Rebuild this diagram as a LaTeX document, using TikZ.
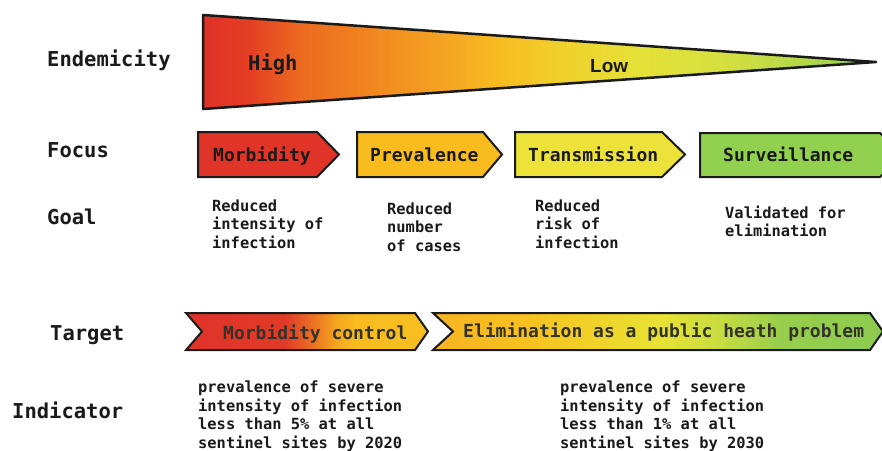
\documentclass[tikz,border=0pt]{standalone}
\usepackage{fontspec}
\newfontfamily\monofam{DejaVu Sans Mono}
\newfontfamily\lowfam{Liberation Sans}

\definecolor{ink}{HTML}{1A1A1A}
\definecolor{barink}{HTML}{33332A}
\definecolor{fRed}{HTML}{E03428}
\definecolor{fAmber}{HTML}{F8BC1E}
\definecolor{fYellow}{HTML}{EDE23A}
\definecolor{fGreen}{HTML}{92D050}

\begin{document}
\begin{tikzpicture}[x=1pt,y=-1pt,
  rowlabel/.style={anchor=base west,inner sep=0pt,text=ink,font=\monofam\bfseries\fontsize{20.5}{24}\selectfont},
  focustext/.style={anchor=base west,inner sep=0pt,text=ink,font=\monofam\bfseries\fontsize{18}{22}\selectfont},
  bartext/.style={anchor=base west,inner sep=0pt,text=barink,font=\monofam\bfseries\fontsize{18}{22}\selectfont},
  % multi-line blocks: the base anchor sits on the last line
  smalltext/.style={anchor=base west,inner sep=0pt,text=ink,align=left,font=\monofam\bfseries\fontsize{15.4}{18.6}\selectfont},
  outline/.style={draw=ink,line width=2pt,line join=miter},
]
\useasboundingbox (0,0) rectangle (882,450);

% ---------- endemicity wedge ----------
\begin{scope}
  \clip (203,15) -- (876,62) -- (203,109) -- cycle;
  \foreach \xa/\ca/\xb/\cb in {
      203/DF3127/250/E43F24, 250/E43F24/300/EC6A20, 300/EC6A20/380/F18A1F,
      380/F18A1F/450/F5A623, 450/F5A623/490/F8B820, 490/F8B820/560/F0D02C,
      560/F0D02C/630/E6E036, 630/E6E036/720/D6E040, 720/D6E040/800/B6D848,
      800/B6D848/877/8CCC50}{
    \definecolor{ca}{HTML}{\ca}\definecolor{cb}{HTML}{\cb}
    \fill[left color=ca,right color=cb] (\xa-0.4,10) rectangle (\xb+0.4,115);
  }
\end{scope}
\draw[draw=ink,line width=2.5pt,line join=round] (203,15) -- (876,62) -- (203,109) -- cycle;
\node[rowlabel] (high) at (248,70) {High};
\node[anchor=base west,inner sep=0pt,text=ink,font=\lowfam\bfseries\fontsize{19}{22}\selectfont] (low) at (590,72) {Low};

% ---------- focus arrows ----------
\fill[fRed]    (198,132) -- (317,132) -- (339,154.5) -- (317,177) -- (198,177) -- cycle;
\draw[outline] (198,132) -- (317,132) -- (339,154.5) -- (317,177) -- (198,177) -- cycle;
\fill[fAmber]  (357,132) -- (483,132) -- (502,154.5) -- (483,177) -- (357,177) -- cycle;
\draw[outline] (357,132) -- (483,132) -- (502,154.5) -- (483,177) -- (357,177) -- cycle;
\fill[fYellow] (515,132) -- (662,132) -- (685,154.5) -- (662,177) -- (515,177) -- cycle;
\draw[outline] (515,132) -- (662,132) -- (685,154.5) -- (662,177) -- (515,177) -- cycle;
\fill[fGreen]  (700,133) -- (880,133) -- (903,155) -- (880,177) -- (700,177) -- cycle;
\draw[outline] (700,133) -- (880,133) -- (903,155) -- (880,177) -- (700,177) -- cycle;

\node[focustext] (fmorb)  at (213,161) {Morbidity};
\node[focustext] (fprev)  at (370,161) {Prevalence};
\node[focustext] (ftrans) at (528,161) {Transmission};
\node[focustext] (fsurv)  at (723,161) {Surveillance};

% ---------- goals ----------
\node[smalltext] (g1) at (212,248.2) {Reduced\\intensity of\\infection};
\node[smalltext] (g2) at (387,251.2) {Reduced\\number\\of cases};
\node[smalltext] (g3) at (535,248.2) {Reduced\\risk of\\infection};
\node[smalltext] (g4) at (725,236.6) {Validated for\\elimination};

% ---------- target bars ----------
\begin{scope}
  \clip (186,313) -- (415,313) -- (428,331.5) -- (415,350) -- (186,350) -- (202,331.5) -- cycle;
  \foreach \xa/\ca/\xb/\cb in {
      186/E0332A/285/E03A28, 285/E03A28/310/EA6A22, 310/EA6A22/335/F4A420,
      335/F4A420/355/F8BC20, 355/F8BC20/430/F8BE20}{
    \definecolor{ca}{HTML}{\ca}\definecolor{cb}{HTML}{\cb}
    \fill[left color=ca,right color=cb] (\xa-0.4,308) rectangle (\xb+0.4,355);
  }
\end{scope}
\draw[outline] (186,313) -- (415,313) -- (428,331.5) -- (415,350) -- (186,350) -- (202,331.5) -- cycle;

\begin{scope}
  \clip (433,313) -- (870,313) -- (883,331.5) -- (870,350) -- (433,350) -- (453,331.5) -- cycle;
  \foreach \xa/\ca/\xb/\cb in {
      433/F6B422/520/F8C020, 520/F8C020/600/F0D42A, 600/F0D42A/660/E8E234,
      660/E8E234/720/C8DC40, 720/C8DC40/780/98CE4C, 780/98CE4C/885/8CCB50}{
    \definecolor{ca}{HTML}{\ca}\definecolor{cb}{HTML}{\cb}
    \fill[left color=ca,right color=cb] (\xa-0.4,308) rectangle (\xb+0.4,355);
  }
\end{scope}
\draw[outline] (433,313) -- (870,313) -- (883,331.5) -- (870,350) -- (433,350) -- (453,331.5) -- cycle;

\node[bartext] (tmorb) at (223,339) {Morbidity control};
\node[bartext] (telim) at (463,337) {Elimination as a public heath problem};

% ---------- indicators ----------
\node[smalltext] (i1) at (198,448.3) {prevalence of severe\\intensity of infection\\less than 5\% at all\\sentinel sites by 2020};
\node[smalltext] (i2) at (560,448.3) {prevalence of severe\\intensity of infection\\less than 1\% at all\\sentinel sites by 2030};

% ---------- row labels ----------
\node[rowlabel] (lend)  at (47,66)  {Endemicity};
\node[rowlabel] (lfoc)  at (47,157) {Focus};
\node[rowlabel] (lgoal) at (47,224) {Goal};
\node[rowlabel] (ltgt)  at (50,340) {Target};
\node[rowlabel] (lind)  at (12,418) {Indicator};
\end{tikzpicture}
\end{document}
